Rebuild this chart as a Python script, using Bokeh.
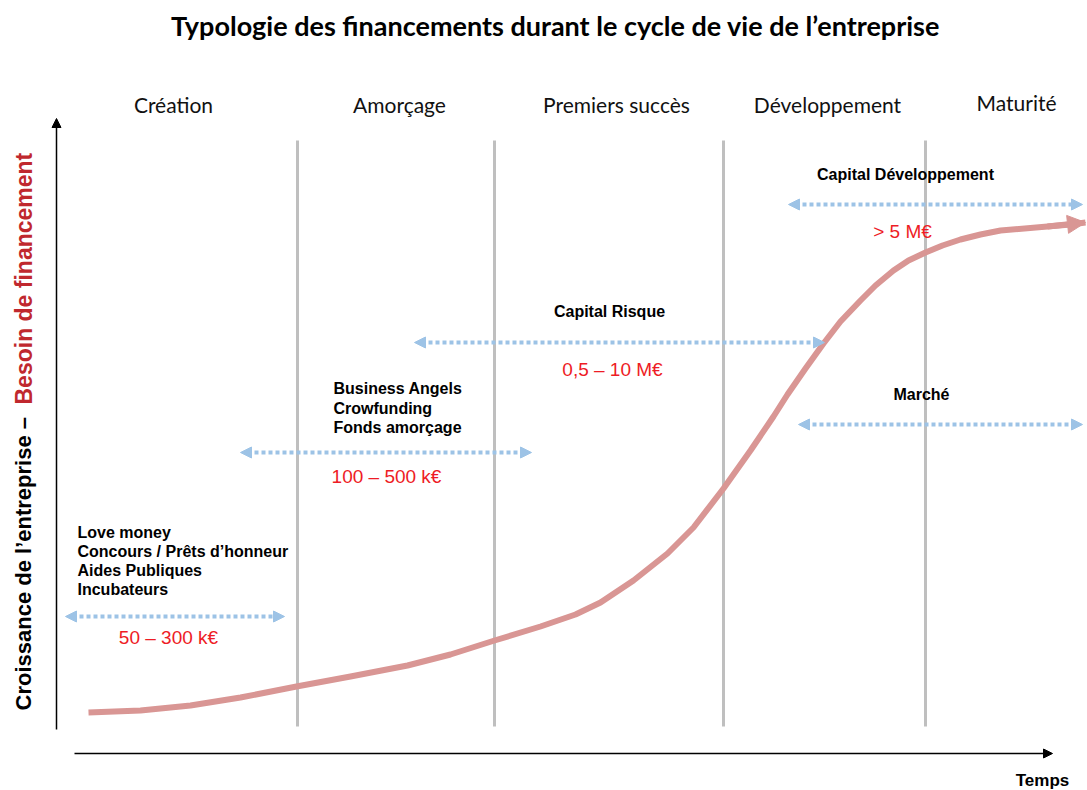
import math
from bokeh.plotting import figure
from bokeh.models import Range1d, Arrow, NormalHead, ColumnDataSource
from bokeh.core.properties import value
from bokeh.embed import file_html
from bokeh.resources import INLINE

# ---------------- data ----------------
title = "Typologie des financements durant le cycle de vie de l’entreprise"

phases = ["Création", "Amorçage", "Premiers succès", "Développement", "Maturité"]
phase_x = [173, 399, 616, 827, 1016]
phase_y = [686, 686, 686, 686, 688]

# phase boundaries (vertical grey lines)
boundary_x = [297, 494, 723, 925]
boundary_bottom = [64, 64, 64, 64]
boundary_top = [650, 650, 650, 650]

# growth curve
curve_x = [88, 140, 190, 240, 296, 350, 407, 450, 494, 540, 575, 600, 633, 667,
           693, 723, 750, 773, 787, 805, 823, 840, 860, 875, 893, 908, 925, 942,
           960, 980, 1000, 1047, 1070, 1085]
curve_y = [78, 80, 85, 93, 104, 114, 125, 136, 150, 164, 176, 188, 210, 237,
           263, 302, 340, 374, 396, 422, 447, 469, 490, 505, 520, 530, 538, 545,
           551, 556, 560, 564, 566, 568]

# financing ranges (double arrows)
fin_start = [65, 240, 414, 788, 798]
fin_end = [284, 531, 824, 1082, 1082]
fin_y = [174, 338, 448, 586, 366]

# amounts (red)
amounts = ["50 – 300 k€", "100 – 500 k€", "0,5 – 10 M€", "> 5 M€"]
amount_x = [168, 386, 612, 902]
amount_y = [153, 314, 421, 559]

# financing names (bold, centred)
names = ["Capital Risque", "Capital Développement", "Marché"]
name_x = [609, 905, 921]
name_y = [479, 616, 396]

# financing names (bold, left-aligned lists)
list_text = ["Love money", "Concours / Prêts d’honneur", "Aides Publiques", "Incubateurs",
             "Business Angels", "Crowfunding", "Fonds amorçage"]
list_x = [77, 77, 77, 77, 333, 333, 333]
list_y = [258, 239, 220, 201, 402, 382, 363]

# axes
yaxis_x = [56]
yaxis_y0 = [61]
yaxis_y1 = [672]
xaxis_y = [37]
xaxis_x0 = [74]
xaxis_x1 = [1052]

ylabel_black = "Croissance de l’entreprise –"
ylabel_red = "Besoin de financement"
ylabel_x = [23]
ylabel_black_y = [80]
ylabel_red_y = [386]

xlabel = "Temps"
xlabel_x = [1042]
xlabel_y = [10]

title_x = [555]
title_y = [765]

# ---------------- styling ----------------
BLUE = "#9dc3e6"
PINK = "#d99694"
GREY = "#bfbfbf"
RED = "#ee1c25"
DARKRED = "#c0282e"
ARIAL = value("Liberation Sans")
CALIBRI = value("Lato")

p = figure(width=1087, height=790, x_range=Range1d(0, 1087), y_range=Range1d(0, 790),
           output_backend="svg", toolbar_location=None, min_border=0,
           x_axis_type=None, y_axis_type=None)
p.grid.visible = False
p.outline_line_color = None
p.background_fill_color = "white"

# title
p.text(x=title_x, y=title_y, text=[title], text_font=CALIBRI, text_font_style="bold",
       text_font_size="27px", text_align="center", text_baseline="middle", text_color="black")

# phases
p.text(x=phase_x, y=phase_y, text=phases, text_font=CALIBRI, text_font_size="21px",
       text_align="center", text_baseline="middle", text_color="#111111")

# grey boundaries
p.segment(x0=boundary_x, y0=boundary_bottom, x1=boundary_x, y1=boundary_top,
          line_color=GREY, line_width=3)

# axes with arrows
p.add_layout(Arrow(end=NormalHead(size=9, fill_color="black", line_color="black"),
                   x_start=yaxis_x[0], y_start=yaxis_y0[0], x_end=yaxis_x[0], y_end=yaxis_y1[0],
                   line_color="black", line_width=1.5))
p.add_layout(Arrow(end=NormalHead(size=9, fill_color="black", line_color="black"),
                   x_start=xaxis_x0[0], y_start=xaxis_y[0], x_end=xaxis_x1[0], y_end=xaxis_y[0],
                   line_color="black", line_width=1.5))

# axis labels
p.text(x=ylabel_x, y=ylabel_black_y, text=[ylabel_black], angle=math.pi / 2,
       text_font=ARIAL, text_font_style="bold", text_font_size="22px",
       text_align="left", text_baseline="middle", text_color="black")
p.text(x=ylabel_x, y=ylabel_red_y, text=[ylabel_red], angle=math.pi / 2,
       text_font=ARIAL, text_font_style="bold", text_font_size="23px",
       text_align="left", text_baseline="middle", text_color=DARKRED)
p.text(x=xlabel_x, y=xlabel_y, text=[xlabel], text_font=ARIAL, text_font_style="bold",
       text_font_size="17px", text_align="center", text_baseline="middle", text_color="black")

# growth curve with arrow head
p.line(curve_x, curve_y, line_color=PINK, line_width=6, line_join="round", line_cap="butt")
p.add_layout(Arrow(end=NormalHead(size=18, fill_color=PINK, line_color=PINK),
                   x_start=curve_x[-3], y_start=curve_y[-3], x_end=curve_x[-1], y_end=curve_y[-1],
                   line_color=PINK, line_width=6))

# financing double arrows
fin_src = ColumnDataSource(dict(x0=fin_start, x1=fin_end, y=fin_y))
p.add_layout(Arrow(start=NormalHead(size=11, fill_color=BLUE, line_color=BLUE, line_width=1),
                   end=NormalHead(size=11, fill_color=BLUE, line_color=BLUE, line_width=1),
                   source=fin_src, x_start="x0", y_start="y", x_end="x1", y_end="y",
                   line_color=BLUE, line_width=4, line_dash="4 3"))

# amounts
p.text(x=amount_x, y=amount_y, text=amounts, text_font=ARIAL, text_font_size="19px",
       text_align="center", text_baseline="middle", text_color=RED)

# names
p.text(x=name_x, y=name_y, text=names, text_font=ARIAL, text_font_style="bold",
       text_font_size="16px", text_align="center", text_baseline="middle", text_color="black")
p.text(x=list_x, y=list_y, text=list_text, text_font=ARIAL, text_font_style="bold",
       text_font_size="16px", text_align="left", text_baseline="middle", text_color="black")

open("out.html", "w").write(file_html(p, INLINE))
